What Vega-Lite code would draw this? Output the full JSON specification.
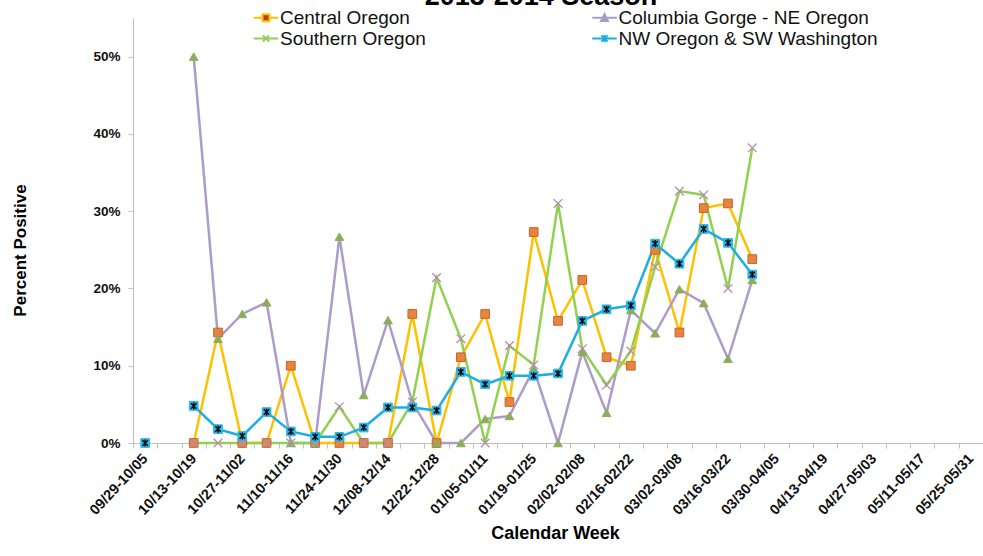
{
  "$schema": "https://vega.github.io/schema/vega-lite/v6.json",
  "width": 850,
  "height": 425,
  "autosize": {"type": "none"},
  "padding": {"left": 133, "top": 18, "right": 0, "bottom": 113},
  "background": "white",
  "config": {"view": {"stroke": null}, "font": "Liberation Sans"},
  "title": {"text": "2013-2014 Season", "fontSize": 27, "fontWeight": "bold", "font": "Liberation Sans", "color": "#000000", "anchor": "middle", "frame": "group", "baseline": "alphabetic", "offset": 11, "dx": -17, "dy": 35},
  "data": {"values": [
    {"week": "10/13-10/19", "region": "Central Oregon", "pct": 0},
    {"week": "10/20-10/26", "region": "Central Oregon", "pct": 14.3},
    {"week": "10/27-11/02", "region": "Central Oregon", "pct": 0},
    {"week": "11/03-11/09", "region": "Central Oregon", "pct": 0},
    {"week": "11/10-11/16", "region": "Central Oregon", "pct": 10},
    {"week": "11/17-11/23", "region": "Central Oregon", "pct": 0},
    {"week": "11/24-11/30", "region": "Central Oregon", "pct": 0},
    {"week": "12/01-12/07", "region": "Central Oregon", "pct": 0},
    {"week": "12/08-12/14", "region": "Central Oregon", "pct": 0},
    {"week": "12/15-12/21", "region": "Central Oregon", "pct": 16.7},
    {"week": "12/22-12/28", "region": "Central Oregon", "pct": 0},
    {"week": "12/29-01/04", "region": "Central Oregon", "pct": 11.1},
    {"week": "01/05-01/11", "region": "Central Oregon", "pct": 16.7},
    {"week": "01/12-01/18", "region": "Central Oregon", "pct": 5.3},
    {"week": "01/19-01/25", "region": "Central Oregon", "pct": 27.3},
    {"week": "01/26-02/01", "region": "Central Oregon", "pct": 15.8},
    {"week": "02/02-02/08", "region": "Central Oregon", "pct": 21.1},
    {"week": "02/09-02/15", "region": "Central Oregon", "pct": 11.1},
    {"week": "02/16-02/22", "region": "Central Oregon", "pct": 10.0},
    {"week": "02/23-03/01", "region": "Central Oregon", "pct": 25.0},
    {"week": "03/02-03/08", "region": "Central Oregon", "pct": 14.3},
    {"week": "03/09-03/15", "region": "Central Oregon", "pct": 30.4},
    {"week": "03/16-03/22", "region": "Central Oregon", "pct": 31.0},
    {"week": "03/23-03/29", "region": "Central Oregon", "pct": 23.8},
    {"week": "10/13-10/19", "region": "Columbia Gorge - NE Oregon", "pct": 50},
    {"week": "10/20-10/26", "region": "Columbia Gorge - NE Oregon", "pct": 13.5},
    {"week": "10/27-11/02", "region": "Columbia Gorge - NE Oregon", "pct": 16.7},
    {"week": "11/03-11/09", "region": "Columbia Gorge - NE Oregon", "pct": 18.2},
    {"week": "11/10-11/16", "region": "Columbia Gorge - NE Oregon", "pct": 0},
    {"week": "11/17-11/23", "region": "Columbia Gorge - NE Oregon", "pct": 0},
    {"week": "11/24-11/30", "region": "Columbia Gorge - NE Oregon", "pct": 26.7},
    {"week": "12/01-12/07", "region": "Columbia Gorge - NE Oregon", "pct": 6.2},
    {"week": "12/08-12/14", "region": "Columbia Gorge - NE Oregon", "pct": 15.9},
    {"week": "12/15-12/21", "region": "Columbia Gorge - NE Oregon", "pct": 5.3},
    {"week": "12/22-12/28", "region": "Columbia Gorge - NE Oregon", "pct": 0},
    {"week": "12/29-01/04", "region": "Columbia Gorge - NE Oregon", "pct": 0},
    {"week": "01/05-01/11", "region": "Columbia Gorge - NE Oregon", "pct": 3.1},
    {"week": "01/12-01/18", "region": "Columbia Gorge - NE Oregon", "pct": 3.5},
    {"week": "01/19-01/25", "region": "Columbia Gorge - NE Oregon", "pct": 9.6},
    {"week": "01/26-02/01", "region": "Columbia Gorge - NE Oregon", "pct": 0},
    {"week": "02/02-02/08", "region": "Columbia Gorge - NE Oregon", "pct": 11.8},
    {"week": "02/09-02/15", "region": "Columbia Gorge - NE Oregon", "pct": 3.9},
    {"week": "02/16-02/22", "region": "Columbia Gorge - NE Oregon", "pct": 17.2},
    {"week": "02/23-03/01", "region": "Columbia Gorge - NE Oregon", "pct": 14.2},
    {"week": "03/02-03/08", "region": "Columbia Gorge - NE Oregon", "pct": 19.9},
    {"week": "03/09-03/15", "region": "Columbia Gorge - NE Oregon", "pct": 18.1},
    {"week": "03/16-03/22", "region": "Columbia Gorge - NE Oregon", "pct": 10.9},
    {"week": "03/23-03/29", "region": "Columbia Gorge - NE Oregon", "pct": 21.1},
    {"week": "10/13-10/19", "region": "Southern Oregon", "pct": 0},
    {"week": "10/20-10/26", "region": "Southern Oregon", "pct": 0},
    {"week": "10/27-11/02", "region": "Southern Oregon", "pct": 0},
    {"week": "11/03-11/09", "region": "Southern Oregon", "pct": 0},
    {"week": "11/10-11/16", "region": "Southern Oregon", "pct": 0},
    {"week": "11/17-11/23", "region": "Southern Oregon", "pct": 0},
    {"week": "11/24-11/30", "region": "Southern Oregon", "pct": 4.7},
    {"week": "12/01-12/07", "region": "Southern Oregon", "pct": 0},
    {"week": "12/08-12/14", "region": "Southern Oregon", "pct": 0},
    {"week": "12/15-12/21", "region": "Southern Oregon", "pct": 5.3},
    {"week": "12/22-12/28", "region": "Southern Oregon", "pct": 21.4},
    {"week": "12/29-01/04", "region": "Southern Oregon", "pct": 13.5},
    {"week": "01/05-01/11", "region": "Southern Oregon", "pct": 0},
    {"week": "01/12-01/18", "region": "Southern Oregon", "pct": 12.6},
    {"week": "01/19-01/25", "region": "Southern Oregon", "pct": 10.1},
    {"week": "01/26-02/01", "region": "Southern Oregon", "pct": 31.0},
    {"week": "02/02-02/08", "region": "Southern Oregon", "pct": 12.2},
    {"week": "02/09-02/15", "region": "Southern Oregon", "pct": 7.5},
    {"week": "02/16-02/22", "region": "Southern Oregon", "pct": 11.9},
    {"week": "02/23-03/01", "region": "Southern Oregon", "pct": 22.8},
    {"week": "03/02-03/08", "region": "Southern Oregon", "pct": 32.6},
    {"week": "03/09-03/15", "region": "Southern Oregon", "pct": 32.1},
    {"week": "03/16-03/22", "region": "Southern Oregon", "pct": 20.0},
    {"week": "03/23-03/29", "region": "Southern Oregon", "pct": 38.2},
    {"week": "09/29-10/05", "region": "NW Oregon & SW Washington", "pct": 0},
    {"week": "10/06-10/12", "region": "NW Oregon & SW Washington", "pct": null},
    {"week": "10/13-10/19", "region": "NW Oregon & SW Washington", "pct": 4.8},
    {"week": "10/20-10/26", "region": "NW Oregon & SW Washington", "pct": 1.8},
    {"week": "10/27-11/02", "region": "NW Oregon & SW Washington", "pct": 0.9},
    {"week": "11/03-11/09", "region": "NW Oregon & SW Washington", "pct": 4.0},
    {"week": "11/10-11/16", "region": "NW Oregon & SW Washington", "pct": 1.5},
    {"week": "11/17-11/23", "region": "NW Oregon & SW Washington", "pct": 0.8},
    {"week": "11/24-11/30", "region": "NW Oregon & SW Washington", "pct": 0.8},
    {"week": "12/01-12/07", "region": "NW Oregon & SW Washington", "pct": 2.0},
    {"week": "12/08-12/14", "region": "NW Oregon & SW Washington", "pct": 4.6},
    {"week": "12/15-12/21", "region": "NW Oregon & SW Washington", "pct": 4.6},
    {"week": "12/22-12/28", "region": "NW Oregon & SW Washington", "pct": 4.2},
    {"week": "12/29-01/04", "region": "NW Oregon & SW Washington", "pct": 9.2},
    {"week": "01/05-01/11", "region": "NW Oregon & SW Washington", "pct": 7.6},
    {"week": "01/12-01/18", "region": "NW Oregon & SW Washington", "pct": 8.7},
    {"week": "01/19-01/25", "region": "NW Oregon & SW Washington", "pct": 8.7},
    {"week": "01/26-02/01", "region": "NW Oregon & SW Washington", "pct": 9.0},
    {"week": "02/02-02/08", "region": "NW Oregon & SW Washington", "pct": 15.8},
    {"week": "02/09-02/15", "region": "NW Oregon & SW Washington", "pct": 17.3},
    {"week": "02/16-02/22", "region": "NW Oregon & SW Washington", "pct": 17.8},
    {"week": "02/23-03/01", "region": "NW Oregon & SW Washington", "pct": 25.8},
    {"week": "03/02-03/08", "region": "NW Oregon & SW Washington", "pct": 23.2},
    {"week": "03/09-03/15", "region": "NW Oregon & SW Washington", "pct": 27.7},
    {"week": "03/16-03/22", "region": "NW Oregon & SW Washington", "pct": 25.9},
    {"week": "03/23-03/29", "region": "NW Oregon & SW Washington", "pct": 21.8}
  ]},
  "encoding": {
    "x": {
      "field": "week", "type": "ordinal", "sort": null, "bandPosition": 0.5,
      "scale": {"type": "band", "paddingInner": 0, "paddingOuter": 0, "domain": ["09/29-10/05","10/06-10/12","10/13-10/19","10/20-10/26","10/27-11/02","11/03-11/09","11/10-11/16","11/17-11/23","11/24-11/30","12/01-12/07","12/08-12/14","12/15-12/21","12/22-12/28","12/29-01/04","01/05-01/11","01/12-01/18","01/19-01/25","01/26-02/01","02/02-02/08","02/09-02/15","02/16-02/22","02/23-03/01","03/02-03/08","03/09-03/15","03/16-03/22","03/23-03/29","03/30-04/05","04/06-04/12","04/13-04/19","04/20-04/26","04/27-05/03","05/04-05/10","05/11-05/17","05/18-05/24","05/25-05/31"]},
      "axis": {
        "title": "Calendar Week", "titleFontSize": 18, "titleFontWeight": "bold", "titleColor": "#000000", "titleFont": "Liberation Sans",
        "titleX": 422, "titleY": 90, "titleBaseline": "middle", "titleAlign": "center",
        "labelAngle": -47, "labelAlign": "right", "labelBaseline": "middle", "labelFontSize": 14.5, "labelFontWeight": "bold", "labelColor": "#111111", "labelFont": "Liberation Sans",
        "labelPadding": 8, "labelOverlap": false, "labelBound": false,
        "labelExpr": "indexof(['09/29-10/05','10/13-10/19','10/27-11/02','11/10-11/16','11/24-11/30','12/08-12/14','12/22-12/28','01/05-01/11','01/19-01/25','02/02-02/08','02/16-02/22','03/02-03/08','03/16-03/22','03/30-04/05','04/13-04/19','04/27-05/03','05/11-05/17','05/25-05/31'], datum.value) >= 0 ? datum.value : ''",
        "tickBand": "extent", "tickSize": 5, "tickColor": "#BFBFBF", "domainColor": "#BFBFBF", "grid": false
      }
    },
    "y": {
      "field": "pct", "type": "quantitative",
      "scale": {"domain": [0, 55], "nice": false, "zero": true},
      "axis": {
        "title": "Percent Positive", "titleFontSize": 17, "titleFontWeight": "bold", "titleColor": "#000000", "titleFont": "Liberation Sans",
        "titleX": -113, "titleY": 232, "titleAngle": -90, "titleAlign": "center", "titleBaseline": "middle",
        "values": [0, 10, 20, 30, 40, 50], "labelExpr": "datum.value + '%'",
        "labelFontSize": 13.5, "labelFontWeight": "bold", "labelColor": "#111111", "labelFont": "Liberation Sans", "labelPadding": 8,
        "tickSize": 5, "tickColor": "#BFBFBF", "domainColor": "#BFBFBF", "grid": false
      }
    }
  },
  "layer": [
    {
      "mark": {"type": "line", "strokeWidth": 2.5},
      "encoding": {
        "color": {
          "field": "region", "type": "nominal",
          "scale": {"domain": ["Central Oregon", "Columbia Gorge - NE Oregon", "Southern Oregon", "NW Oregon & SW Washington"], "range": ["#FFC000", "#AC9CCB", "#92D050", "#1CADE4"]},
          "legend": null
        }
      }
    },
    {
      "transform": [{"filter": "datum.region === 'Central Oregon'"}],
      "mark": {"type": "point", "shape": "square", "filled": true, "size": 75, "fill": "#E8843F", "stroke": "#C4652A", "strokeWidth": 1, "opacity": 1}
    },
    {
      "transform": [{"filter": "datum.region === 'Columbia Gorge - NE Oregon'"}],
      "mark": {"type": "point", "shape": "triangle-up", "filled": true, "size": 75, "fill": "#8CAE5B", "stroke": "#8CAE5B", "strokeWidth": 1, "opacity": 1}
    },
    {
      "transform": [{"filter": "datum.region === 'Southern Oregon'"}],
      "mark": {"type": "point", "shape": "M-1,-1L1,1M-1,1L1,-1", "filled": false, "size": 75, "stroke": "#B48DB0", "strokeWidth": 1.3, "opacity": 1}
    },
    {
      "transform": [{"filter": "datum.region === 'NW Oregon & SW Washington'"}],
      "mark": {"type": "point", "shape": "square", "filled": true, "size": 75, "fill": "#2BB5E8", "stroke": "#2BB5E8", "strokeWidth": 1, "opacity": 1}
    },
    {
      "transform": [{"filter": "datum.region === 'NW Oregon & SW Washington'"}],
      "mark": {"type": "point", "shape": "M-1,-1L1,1M-1,1L1,-1M0,-1.3L0,1.3", "filled": false, "stroke": "#0A0A0A", "size": 30, "strokeWidth": 1.4, "opacity": 1}
    },
    {
      "mark": {"type": "point", "filled": true, "size": 0, "strokeWidth": 0, "opacity": 1},
      "encoding": {
        "fill": {
          "field": "region", "type": "nominal",
          "scale": {"domain": ["Central Oregon", "Southern Oregon", "Columbia Gorge - NE Oregon", "NW Oregon & SW Washington"], "range": ["#B0402E", "#92D050", "#8CAE5B", "#1CADE4"]},
          "legend": {"orient": "none", "legendX": 123.5, "legendY": -10, "columns": 2, "columnPadding": 161.5, "rowPadding": 1, "title": null, "padding": 0,
            "symbolSize": 49, "symbolStrokeWidth": 2, "labelOffset": 4.5, "labelFontSize": 19, "labelFont": "Liberation Sans", "labelColor": "#111111", "labelLimit": 400}
        },
        "stroke": {
          "field": "region", "type": "nominal",
          "scale": {"domain": ["Central Oregon", "Southern Oregon", "Columbia Gorge - NE Oregon", "NW Oregon & SW Washington"], "range": ["#FFC000", "#92D050", "#AC9CCB", "#1CADE4"]},
          "legend": {"orient": "none", "legendX": 123.5, "legendY": -10, "columns": 2, "columnPadding": 161.5, "rowPadding": 1, "title": null, "padding": 0,
            "symbolSize": 49, "symbolStrokeWidth": 2, "labelOffset": 4.5, "labelFontSize": 19, "labelFont": "Liberation Sans", "labelColor": "#111111", "labelLimit": 400}
        },
        "shape": {
          "field": "region", "type": "nominal",
          "scale": {"domain": ["Central Oregon", "Southern Oregon", "Columbia Gorge - NE Oregon", "NW Oregon & SW Washington"], "range": ["M-3.5,0L-1,0M1,0L3.5,0M-1,-1L1,-1L1,1L-1,1Z", "M-3.5,0L3.5,0M-0.9,-0.9L0.9,0.9M-0.9,0.9L0.9,-0.9", "M-3.5,0L3.5,0M0,-1.1L1,0.9L-1,0.9Z", "M-3.5,0L3.5,0M-0.9,-0.9L0.9,0.9M-0.9,0.9L0.9,-0.9M0,-1.1L0,1.1"]},
          "legend": {"orient": "none", "legendX": 123.5, "legendY": -10, "columns": 2, "columnPadding": 161.5, "rowPadding": 1, "title": null, "padding": 0,
            "symbolSize": 49, "symbolStrokeWidth": 2, "labelOffset": 4.5, "labelFontSize": 19, "labelFont": "Liberation Sans", "labelColor": "#111111", "labelLimit": 400}
        }
      }
    }
  ]
}
